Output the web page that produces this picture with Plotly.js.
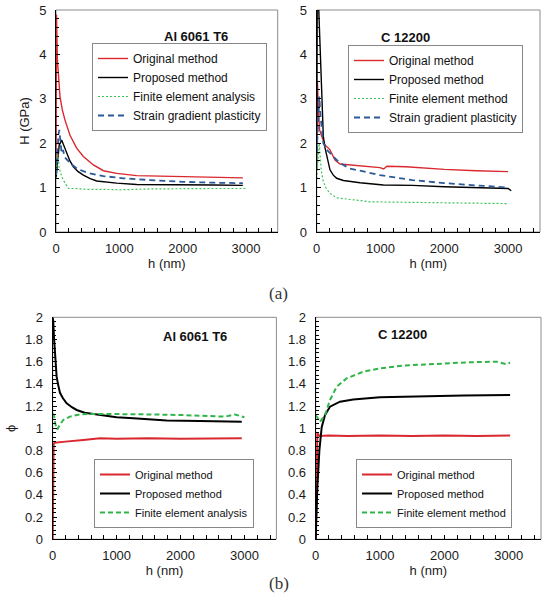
<!DOCTYPE html>
<html>
<head>
<meta charset="utf-8">
<script src="https://cdn.plot.ly/plotly-3.0.1.min.js"></script>
<style>html,body{margin:0;padding:0;background:#fff;}#chart{width:542px;height:609px;}</style>
</head>
<body>
<div id="chart"></div>
<script>
// ---- Panel (a) left: Al 6061 T6, hardness H (GPa) vs depth h (nm)
const alOrigH_h = [0, 8, 21, 40, 63, 100, 142, 221, 326, 432, 590, 748, 958, 1274, 1643, 2000, 2500, 2950];
const alOrigH_v = [1.2, 4.9, 3.9, 3.5, 3.05, 2.75, 2.52, 2.18, 1.89, 1.70, 1.51, 1.38, 1.32, 1.27, 1.26, 1.25, 1.24, 1.22];
const alPropH_h = [0, 20, 50, 89, 120, 168, 220, 274, 350, 432, 540, 642, 800, 958, 1274, 1600, 2000, 2500, 2950];
const alPropH_v = [1.2, 1.55, 1.95, 2.07, 1.95, 1.77, 1.6, 1.47, 1.36, 1.28, 1.2, 1.15, 1.12, 1.10, 1.07, 1.07, 1.07, 1.06, 1.05];
const alFeaH_h = [0, 15, 30, 50, 89, 142, 195, 300, 500, 800, 1000, 1500, 2000, 2500, 3000];
const alFeaH_v = [1.2, 1.55, 1.75, 1.45, 1.25, 1.10, 0.98, 0.98, 0.96, 0.96, 0.95, 0.97, 0.98, 0.98, 0.98];
const alSgpH_h = [0, 20, 40, 52, 70, 89, 110, 140, 180, 221, 270, 326, 430, 537, 748, 1063, 1485, 2000, 2500, 2950];
const alSgpH_v = [1.3, 1.9, 2.2, 2.30, 2.0, 1.77, 1.85, 1.68, 1.62, 1.55, 1.50, 1.43, 1.37, 1.32, 1.26, 1.21, 1.17, 1.13, 1.11, 1.10];

// ---- Panel (a) right: C 12200
const cuOrigH_h = [0, 10, 25, 45, 80, 130, 208, 287, 365, 522, 731, 992, 1050, 1100, 1400, 2000, 2500, 3000];
const cuOrigH_v = [2.0, 3.4, 2.8, 2.3, 2.15, 1.96, 1.85, 1.62, 1.53, 1.51, 1.49, 1.45, 1.42, 1.48, 1.47, 1.41, 1.38, 1.36];
const cuPropH_h = [0, 8, 30, 50, 70, 90, 104, 130, 157, 180, 208, 260, 313, 418, 679, 1045, 1500, 2000, 2500, 3000, 3050];
const cuPropH_v = [1.4, 5.2, 5.1, 4.4, 3.6, 2.7, 2.15, 1.9, 1.70, 1.55, 1.40, 1.28, 1.21, 1.16, 1.11, 1.06, 1.05, 1.02, 1.0, 0.98, 0.93];
const cuFemH_h = [0, 15, 40, 70, 104, 150, 209, 313, 574, 835, 1357, 2000, 2500, 3000];
const cuFemH_v = [1.2, 1.6, 2.0, 1.4, 1.13, 0.98, 0.87, 0.77, 0.72, 0.68, 0.67, 0.66, 0.65, 0.64];
const cuSgpH_h = [0, 15, 30, 41, 60, 80, 104, 157, 261, 365, 522, 731, 992, 1500, 2000, 2500, 3000];
const cuSgpH_v = [1.8, 2.4, 2.9, 3.05, 2.6, 2.37, 2.0, 1.85, 1.70, 1.55, 1.43, 1.36, 1.28, 1.17, 1.10, 1.05, 1.0];

// ---- Panel (b) left: Al 6061 T6, phi vs h
const alOrigP_h = [0, 15, 30, 100, 200, 479, 740, 1000, 1500, 2000, 2500, 2958];
const alOrigP_v = [0, 0.86, 0.87, 0.875, 0.88, 0.895, 0.91, 0.905, 0.91, 0.905, 0.91, 0.91];
const alPropP_h = [0, 10, 20, 36, 62, 90, 114, 160, 219, 300, 375, 500, 740, 1000, 1262, 1784, 2300, 2958];
const alPropP_v = [2.0, 1.95, 1.82, 1.68, 1.46, 1.38, 1.32, 1.27, 1.225, 1.19, 1.165, 1.14, 1.12, 1.10, 1.09, 1.07, 1.065, 1.06];
const alFeaP_h = [0, 20, 40, 72, 110, 165, 269, 427, 700, 1000, 1500, 2000, 2500, 2700, 2850, 3000];
const alFeaP_v = [1.13, 1.12, 1.04, 0.99, 1.03, 1.075, 1.105, 1.126, 1.13, 1.13, 1.125, 1.12, 1.11, 1.105, 1.125, 1.10];

// ---- Panel (b) right: C 12200
const cuOrigP_h = [0, 26, 60, 200, 500, 1000, 1500, 2000, 2500, 3020];
const cuOrigP_v = [0, 0.955, 0.93, 0.935, 0.93, 0.935, 0.93, 0.935, 0.93, 0.935];
const cuPropP_h = [0, 26, 57, 93, 145, 222, 377, 583, 998, 1620, 2300, 3020];
const cuPropP_v = [0, 0.47, 0.80, 1.01, 1.12, 1.195, 1.24, 1.26, 1.28, 1.29, 1.295, 1.30];
const cuFemP_h = [0, 20, 67, 145, 222, 326, 481, 740, 998, 1362, 1880, 2397, 2812, 2950, 3020];
const cuFemP_v = [1.12, 1.10, 1.06, 1.12, 1.255, 1.375, 1.45, 1.51, 1.54, 1.565, 1.58, 1.595, 1.60, 1.58, 1.59];

const RED = '#d9282f', BLACK = '#000000', GREEN_A = '#3cc45a', BLUE = '#2a5a9a', GREEN_B = '#2fb54a';

function tr(x, y, name, color, width, dash, xa, ya, leg) {
  return {x: x, y: y, name: name, type: 'scatter', mode: 'lines',
    line: {color: color, width: width, dash: dash},
    xaxis: xa, yaxis: ya, legend: leg, showlegend: true, hoverinfo: 'skip'};
}

const data = [
  tr(alOrigH_h, alOrigH_v, 'Original method', RED, 1.4, 'solid', 'x', 'y', 'legend'),
  tr(alPropH_h, alPropH_v, 'Proposed method', BLACK, 1.4, 'solid', 'x', 'y', 'legend'),
  tr(alFeaH_h, alFeaH_v, 'Finite element analysis', GREEN_A, 1.2, '2px,2px', 'x', 'y', 'legend'),
  tr(alSgpH_h, alSgpH_v, 'Strain gradient plasticity', BLUE, 1.8, '6px,4px', 'x', 'y', 'legend'),

  tr(cuOrigH_h, cuOrigH_v, 'Original method', RED, 1.4, 'solid', 'x2', 'y2', 'legend2'),
  tr(cuPropH_h, cuPropH_v, 'Proposed method', BLACK, 1.4, 'solid', 'x2', 'y2', 'legend2'),
  tr(cuFemH_h, cuFemH_v, 'Finite element method', GREEN_A, 1.2, '2px,2px', 'x2', 'y2', 'legend2'),
  tr(cuSgpH_h, cuSgpH_v, 'Strain gradient plasticity', BLUE, 1.8, '6px,4px', 'x2', 'y2', 'legend2'),

  tr(alOrigP_h, alOrigP_v, 'Original method', RED, 2, 'solid', 'x3', 'y3', 'legend3'),
  tr(alPropP_h, alPropP_v, 'Proposed method', BLACK, 2, 'solid', 'x3', 'y3', 'legend3'),
  tr(alFeaP_h, alFeaP_v, 'Finite element analysis', GREEN_B, 2, '5px,3px', 'x3', 'y3', 'legend3'),

  tr(cuOrigP_h, cuOrigP_v, 'Original method', RED, 2, 'solid', 'x4', 'y4', 'legend4'),
  tr(cuPropP_h, cuPropP_v, 'Proposed method', BLACK, 2, 'solid', 'x4', 'y4', 'legend4'),
  tr(cuFemP_h, cuFemP_v, 'Finite element method', GREEN_B, 2, '5px,3px', 'x4', 'y4', 'legend4')
];

const W = 542, H = 609;
const px = v => v / W;
const py = v => 1 - v / H;
const FONT = 'Liberation Sans, Arial, sans-serif';
const tickFont = {family: FONT, size: 13, color: '#1a1a1a'};

function xaxis(d0, d1, anchor, showTitle) {
  return {domain: [px(d0), px(d1)], anchor: anchor, range: [0, 3500], dtick: 1000, tick0: 0,
    tickvals: [0, 1000, 2000, 3000],
    ticks: 'inside', ticklen: 4, tickcolor: '#000', showline: true, linecolor: '#000', linewidth: 1,
    showgrid: false, zeroline: false, tickfont: tickFont, ticklabelstandoff: 4,
    minor: {dtick: 200, tick0: 0, ticks: 'inside', ticklen: 4, tickcolor: '#000', showgrid: false},
    title: {text: showTitle ? 'h (nm)' : '', font: {family: FONT, size: 13, color: '#1a1a1a'}, standoff: 2},
    fixedrange: true};
}
function yaxis(d0, d1, anchor, rng, dt, mdt, title, fmt) {
  return {domain: [py(d1), py(d0)], anchor: anchor, range: rng, dtick: dt, tick0: 0,
    ticks: 'inside', ticklen: 4, tickcolor: '#000', showline: true, linecolor: '#000', linewidth: 1,
    showgrid: false, zeroline: false, tickfont: tickFont, ticklabelstandoff: 6, tickformat: fmt,
    minor: {dtick: mdt, tick0: 0, ticks: 'inside', ticklen: 3, tickcolor: '#000', showgrid: false},
    title: {text: title, font: {family: FONT, size: 13, color: '#1a1a1a'}, standoff: 6},
    fixedrange: true};
}

function legend(x, y, fs) {
  return {x: px(x), y: py(y), xanchor: 'left', yanchor: 'top', bgcolor: 'rgba(255,255,255,1)',
    bordercolor: '#888', borderwidth: 1, font: {family: FONT, size: fs, color: '#111'},
    tracegroupgap: 0, itemwidth: 30, itemclick: false, itemdoubleclick: false};
}

function frame(xr, yr) {
  return {type: 'rect', xref: xr + ' domain', yref: yr + ' domain', x0: 0, x1: 1, y0: 0, y1: 1,
    line: {color: '#8c8c8c', width: 1}, layer: 'below'};
}

const layout = {
  width: W, height: H, margin: {l: 0, r: 0, t: 0, b: 0},
  paper_bgcolor: '#fff', plot_bgcolor: '#fff', showlegend: true,
  xaxis: xaxis(56, 277.7, 'y', true),
  yaxis: yaxis(10, 232, 'x', [0, 5], 1, 0.2, 'H (GPa)', ''),
  xaxis2: xaxis(316.7, 540, 'y2', true),
  yaxis2: yaxis(10, 232, 'x2', [0, 5], 1, 0.2, '', ''),
  xaxis3: xaxis(52.7, 276.4, 'y3', true),
  yaxis3: yaxis(317.3, 539.3, 'x3', [0, 2], 0.2, 0.04, 'ϕ', ''),
  xaxis4: xaxis(315.7, 541, 'y4', true),
  yaxis4: yaxis(317.3, 539.3, 'x4', [0, 2], 0.2, 0.04, '', ''),
  legend: legend(92, 43, 12),
  legend2: legend(348, 45, 12),
  legend3: legend(94, 459, 11),
  legend4: legend(356, 459, 11),
  shapes: [frame('x', 'y'), frame('x2', 'y2'), frame('x3', 'y3'), frame('x4', 'y4')],
  annotations: [
    {text: '<b>Al 6061 T6</b>', x: px(162), y: py(27), xref: 'paper', yref: 'paper', showarrow: false, font: {family: FONT, size: 13, color: '#111'}},
    {text: '<b>C 12200</b>', x: px(432), y: py(28), xref: 'paper', yref: 'paper', showarrow: false, font: {family: FONT, size: 13, color: '#111'}},
    {text: '<b>Al 6061 T6</b>', x: px(161), y: py(336), xref: 'paper', yref: 'paper', showarrow: false, font: {family: FONT, size: 13, color: '#111'}},
    {text: '<b>C 12200</b>', x: px(429), y: py(334), xref: 'paper', yref: 'paper', showarrow: false, font: {family: FONT, size: 13, color: '#111'}},
    {text: '(a)', x: px(278), y: py(293), xref: 'paper', yref: 'paper', showarrow: false, font: {family: 'Liberation Serif, Times New Roman, serif', size: 17, color: '#333'}},
    {text: '(b)', x: px(279), y: py(595), xref: 'paper', yref: 'paper', showarrow: false, font: {family: 'Liberation Serif, Times New Roman, serif', size: 17, color: '#333'}}
  ]
};

Plotly.newPlot('chart', data, layout, {staticPlot: true, displayModeBar: false});
</script>
</body>
</html>
